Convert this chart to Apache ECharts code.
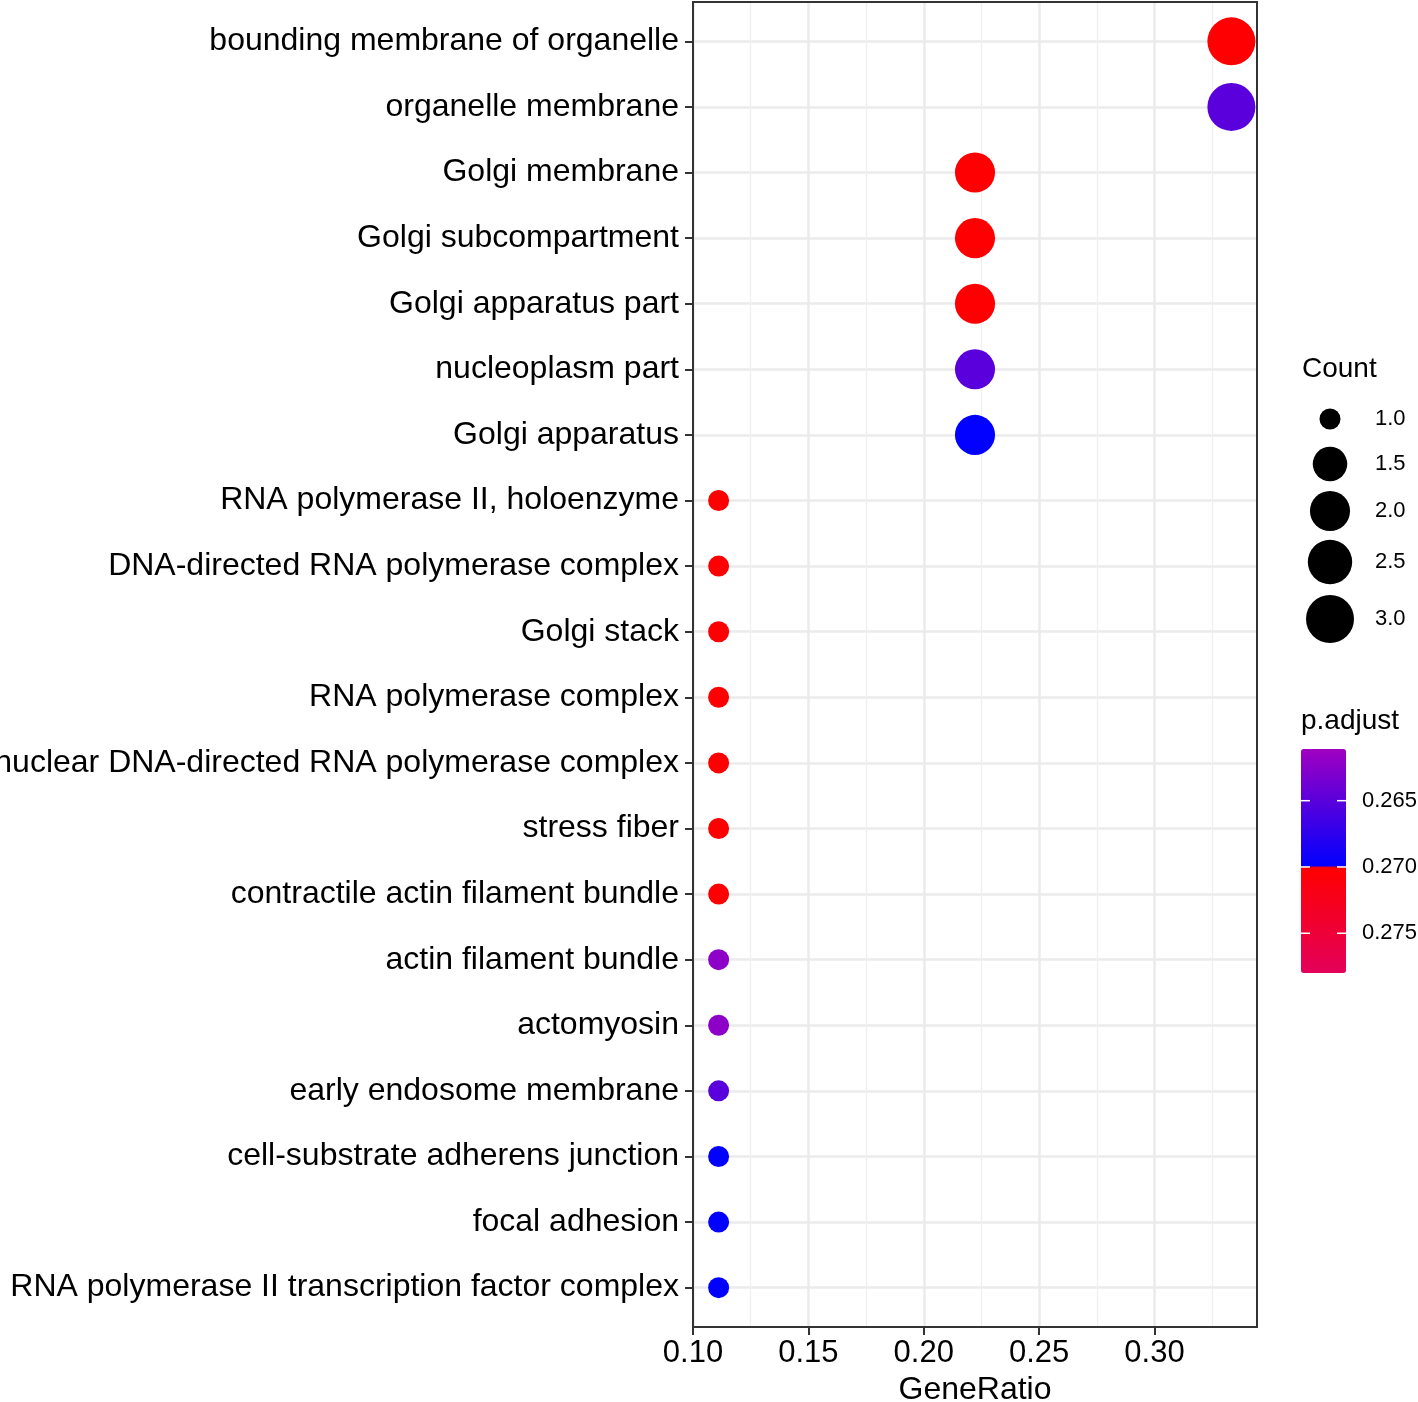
<!DOCTYPE html>
<html><head><meta charset="utf-8">
<script src="https://cdn.jsdelivr.net/npm/echarts@6/dist/echarts.min.js"></script>
<style>html,body{margin:0;padding:0;background:#fff}#chart{width:1418px;height:1402px}</style>
</head><body><div id="chart"></div>
<script>
const categories = [
  'bounding membrane of organelle',
  'organelle membrane',
  'Golgi membrane',
  'Golgi subcompartment',
  'Golgi apparatus part',
  'nucleoplasm part',
  'Golgi apparatus',
  'RNA polymerase II, holoenzyme',
  'DNA-directed RNA polymerase complex',
  'Golgi stack',
  'RNA polymerase complex',
  'nuclear DNA-directed RNA polymerase complex',
  'stress fiber',
  'contractile actin filament bundle',
  'actin filament bundle',
  'actomyosin',
  'early endosome membrane',
  'cell-substrate adherens junction',
  'focal adhesion',
  'RNA polymerase II transcription factor complex'
];
const geneRatio = [0.3333,0.3333,0.2222,0.2222,0.2222,0.2222,0.2222,0.1111,0.1111,0.1111,0.1111,0.1111,0.1111,0.1111,0.1111,0.1111,0.1111,0.1111,0.1111,0.1111];
const counts    = [3,3,2,2,2,2,2,1,1,1,1,1,1,1,1,1,1,1,1,1];
const pAdjust   = [0.2702,0.2650,0.2702,0.2702,0.2702,0.2650,0.2699,0.2702,0.2702,0.2702,0.2702,0.2702,0.2702,0.2702,0.2622,0.2622,0.2650,0.2699,0.2699,0.2699];
const xTicks = [0.10,0.15,0.20,0.25,0.30];
const xRange = [0.1, 0.3444];
const countLegendValues = [1.0,1.5,2.0,2.5,3.0];
const pAdjustTicks = [0.265,0.270,0.275];
const pAdjustRange = [0.2611,0.2780];
const pBreak = 0.270;

const FONT = '"Liberation Sans", Arial, Helvetica, sans-serif';
const pMin = pAdjustRange[0], pMax = pAdjustRange[1];

function sizeOf(c){ return 21 + 27*Math.sqrt((c-1)/2); }
function lerp(a,b,t){ t=Math.max(0,Math.min(1,t)); return 'rgb('+a.map((x,i)=>Math.round(x+(b[i]-x)*t)).join(',')+')'; }
const cTop=[160,0,192], cBlue=[0,0,255], cRed=[255,0,0], cBottom=[228,0,90];
function pColor(v){
  if (v <= pBreak) return lerp(cTop, cBlue, (v-pMin)/(pBreak-pMin));
  return lerp(cRed, cBottom, (v-pBreak)/(pMax-pBreak));
}
const stops=[]; const NS=400;
for(let i=0;i<=NS;i++) stops.push(pColor(pMin+(pMax-pMin)*i/NS));

const data = categories.map((c,i)=>[geneRatio[i], i, counts[i], pAdjust[i]]);
const idx = categories.map((c,i)=>i);

// legend layout
const cl = {x:1330, labelX:1375, titleY:371, ys:[419,464,511,562,619]};
const cb = {left:1301, top:749, width:45, height:224, titleY:723, labelX:1362};

const graphics = [];
graphics.push({type:'text', left:1302, top:cl.titleY-16, z:100, style:{text:'Count', font:'28px '+FONT, fill:'#000'}});
countLegendValues.forEach((v,i)=>{
  graphics.push({type:'circle', z:100, shape:{cx:cl.x, cy:cl.ys[i], r:sizeOf(v)/2}, style:{fill:'#000'}});
  graphics.push({type:'text', z:100, x:cl.labelX, y:cl.ys[i], style:{text:v.toFixed(1), font:'22px '+FONT, fill:'#000', verticalAlign:'middle', align:'left'}});
});
graphics.push({type:'text', left:1301, top:cb.titleY-16, z:100, style:{text:'p.adjust', font:'28px '+FONT, fill:'#000'}});
pAdjustTicks.forEach(v=>{
  const y = cb.top + (v-pMin)/(pMax-pMin)*cb.height;
  graphics.push({type:'line', z:100, shape:{x1:cb.left, y1:y, x2:cb.left+9, y2:y}, style:{stroke:'#fff', lineWidth:1.5}});
  graphics.push({type:'line', z:100, shape:{x1:cb.left+cb.width-9, y1:y, x2:cb.left+cb.width, y2:y}, style:{stroke:'#fff', lineWidth:1.5}});
  graphics.push({type:'text', z:100, x:cb.labelX, y:y, style:{text:v.toFixed(3), font:'22px '+FONT, fill:'#000', verticalAlign:'middle', align:'left'}});
});

const chart = echarts.init(document.getElementById('chart'));
chart.setOption({
  animation:false,
  backgroundColor:'#fff',
  textStyle:{fontFamily:FONT},
  grid:{left:693, right:161, top:2, bottom:75, show:true, z:3, borderColor:'#333', borderWidth:2, backgroundColor:'transparent', containLabel:false, outerBoundsMode:'none'},
  xAxis:{
    type:'value', min:xRange[0], max:xRange[1],
    axisLine:{show:false, onZero:false},
    axisTick:{show:true, customValues:xTicks, length:8, lineStyle:{color:'#333', width:2}},
    axisLabel:{customValues:xTicks, formatter:v=>Number(v).toFixed(2), fontSize:31, color:'#000', margin:11, fontFamily:FONT},
    splitLine:{show:true, lineStyle:{color:'#EBEBEB', width:2.5}},
    minorTick:{show:false, splitNumber:2},
    minorSplitLine:{show:true, lineStyle:{color:'#EFEFEF', width:1.3}},
    name:'GeneRatio', nameLocation:'middle', nameGap:47,
    nameTextStyle:{fontSize:32, color:'#000', fontFamily:FONT}
  },
  yAxis:{
    type:'value', inverse:true, min:-0.6, max:categories.length-1+0.6,
    axisLine:{show:false, onZero:false},
    axisTick:{show:true, customValues:idx, length:8, lineStyle:{color:'#333', width:2}},
    axisLabel:{customValues:idx, formatter:v=>categories[Math.round(v)], fontSize:32, color:'#000', margin:14, fontFamily:FONT},
    splitLine:{show:true, lineStyle:{color:'#EBEBEB', width:2.5}}
  },
  visualMap:{
    type:'continuous', seriesIndex:0, dimension:3, min:pMin, max:pMax,
    orient:'vertical', inverse:true, calculable:false, show:true,
    left:cb.left, top:cb.top, itemWidth:cb.width, itemHeight:cb.height, padding:0,
    text:null, showLabel:false,
    inRange:{color:stops}
  },
  graphic:graphics,
  series:[{
    type:'scatter', data:data,
    symbol:'circle',
    symbolSize:v=>sizeOf(v[2]),
    itemStyle:{opacity:1},
    emphasis:{disabled:true},
    z:5
  }]
});
</script></body></html>
